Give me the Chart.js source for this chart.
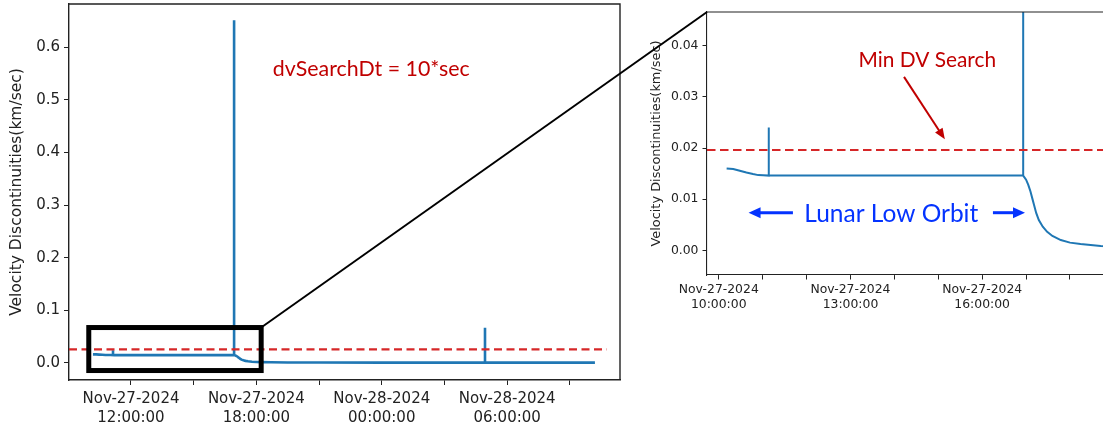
<!DOCTYPE html>
<html><head><meta charset="utf-8">
<script src="https://cdn.jsdelivr.net/npm/chart.js@4.4.1/dist/chart.umd.min.js"></script>
<style>
html,body{margin:0;padding:0;background:#fff;overflow:hidden;width:1103px;height:429px;position:relative;}
#left{position:absolute;left:0;top:0;}
#right{position:absolute;left:640px;top:0;}
#overlay{position:absolute;left:0;top:0;pointer-events:none;}
</style></head><body>
<canvas id="left" width="640" height="429"></canvas>
<canvas id="right" width="480" height="340"></canvas>
<canvas id="overlay" width="1103" height="429"></canvas>
<script>
// ---- data: hours since Nov-27-2024 00:00:00, velocity discontinuity (km/sec)
const hours = [10.18, 10.33, 10.48, 10.63, 10.78, 10.90, 11.01,
  11.14, 11.14, 11.14,
  16.934, 16.934, 16.934,
  17.00, 17.05, 17.10, 17.14, 17.18, 17.23, 17.29, 17.38, 17.48, 17.60, 17.79,
  18.00, 18.24, 18.70, 19.50, 21.00, 24.00,
  28.94, 28.94, 28.94,
  34.20];
const dvKmPerSec = [0.0160, 0.0159, 0.01556, 0.0152, 0.0149, 0.0147, 0.01466,
  0.0146, 0.0240, 0.0146,
  0.0146, 0.6515, 0.0146,
  0.0138, 0.0128, 0.0115, 0.0102, 0.0089, 0.0073, 0.0059, 0.0046, 0.0036, 0.0028, 0.0020,
  0.0015, 0.00123, 0.00084, 0.0006, 0.0004, 0.0003,
  0.0002, 0.0665, 0.0002,
  0.0002];

const leftThreshold = 0.0255;
const rightThreshold = 0.0196;
const leftThresholdHours = [9.034, 34.77];
const rightThresholdHours = [9.733, 19.025];

const leftXTickHours = [12, 15, 18, 21, 24, 27, 30, 33];
const leftXTickLabels = [['Nov-27-2024','12:00:00'], '', ['Nov-27-2024','18:00:00'], '', ['Nov-28-2024','00:00:00'], '', ['Nov-28-2024','06:00:00'], ''];
const leftYTicks = [0, 0.1, 0.2, 0.3, 0.4, 0.5, 0.6];
const leftYTickLabels = ['0.0', '0.1', '0.2', '0.3', '0.4', '0.5', '0.6'];

const rightXTickHours = [10, 11, 12, 13, 14, 15, 16, 17, 18];
const rightXTickLabels = [['Nov-27-2024','10:00:00'], '', '', ['Nov-27-2024','13:00:00'], '', '', ['Nov-27-2024','16:00:00'], '', ''];
const rightYTicks = [0, 0.01, 0.02, 0.03, 0.04];
const rightYTickLabels = ['0.00', '0.01', '0.02', '0.03', '0.04'];

const yTitle = 'Velocity Discontinuities(km/sec)';
const leftNote = 'dvSearchDt = 10*sec';
const minDvNote = 'Min DV Search';
const orbitNote = 'Lunar Low Orbit';

// zoom box (hours, km/sec)
const zoomBoxHours = [9.98, 18.23];
const zoomBoxDv = [-0.0148, 0.067];

const series = hours.map((h, i) => ({x: h, y: dvKmPerSec[i]}));
const BLUE = '#1f77b4', RED = '#d62728', NOTE_RED = '#c00000', NOTE_BLUE = '#0433ff', INK = '#222';
const TICK_FONT = 'DejaVu Sans';
const NOTE_FONT = 'Lato, "Open Sans", sans-serif';

function fitFont(ctx, text, target) {
  ctx.font = '20px ' + NOTE_FONT;
  const w = ctx.measureText(text).width;
  return (20 * target / w).toFixed(2) + 'px ' + NOTE_FONT;
}
function arrow(ctx, x1, y1, x2, y2, color, lw, hl, hw) {
  const a = Math.atan2(y2 - y1, x2 - x1);
  ctx.save();
  ctx.strokeStyle = color; ctx.fillStyle = color; ctx.lineWidth = lw;
  ctx.beginPath(); ctx.moveTo(x1, y1);
  ctx.lineTo(x2 - Math.cos(a) * hl * 0.8, y2 - Math.sin(a) * hl * 0.8); ctx.stroke();
  ctx.beginPath(); ctx.moveTo(x2, y2);
  ctx.lineTo(x2 - Math.cos(a) * hl + Math.sin(a) * hw / 2, y2 - Math.sin(a) * hl - Math.cos(a) * hw / 2);
  ctx.lineTo(x2 - Math.cos(a) * hl - Math.sin(a) * hw / 2, y2 - Math.sin(a) * hl + Math.cos(a) * hw / 2);
  ctx.closePath(); ctx.fill();
  ctx.restore();
}

const framePlugin = {
  id: 'frame',
  afterDraw(chart) {
    const {ctx, chartArea: a} = chart;
    ctx.save();
    ctx.strokeStyle = INK; ctx.lineWidth = chart.options.plugins.frame.lw;
    ctx.beginPath();
    ctx.moveTo(a.left, a.top); ctx.lineTo(a.right, a.top); ctx.lineTo(a.right, a.bottom);
    ctx.stroke();
    ctx.restore();
  }
};

function axes(cfg) {
  return {
    x: {
      type: 'linear', min: cfg.xmin, max: cfg.xmax,
      afterBuildTicks: s => { s.ticks = cfg.xTicks.map(v => ({value: v})); },
      afterFit: s => { s.height = cfg.xh; s.paddingLeft = 0; s.paddingRight = 0; },
      ticks: {callback: (v, i) => cfg.xLabels[i], autoSkip: false, maxRotation: 0, minRotation: 0,
        font: {family: TICK_FONT, size: cfg.fs, lineHeight: cfg.lh}, color: INK, padding: cfg.xpad},
      grid: {drawOnChartArea: false, drawTicks: true, tickLength: cfg.tl, color: INK, lineWidth: 1},
      border: {display: true, color: INK, width: cfg.lw}
    },
    y: {
      type: 'linear', min: cfg.ymin, max: cfg.ymax,
      afterBuildTicks: s => { s.ticks = cfg.yTicks.map(v => ({value: v})); },
      afterFit: s => { s.width = cfg.yw; s.paddingTop = 0; s.paddingBottom = 0; },
      ticks: {callback: (v, i) => cfg.yLabels[i], autoSkip: false,
        font: {family: TICK_FONT, size: cfg.fs}, color: INK, padding: cfg.ypad},
      grid: {drawOnChartArea: false, drawTicks: true, tickLength: cfg.tl, color: INK, lineWidth: 1},
      border: {display: true, color: INK, width: cfg.lw},
      title: {display: true, text: yTitle, color: INK, font: {family: TICK_FONT, size: cfg.tfs},
        padding: {top: cfg.tpad, bottom: 0}}
    }
  };
}

const leftNotes = {
  id: 'leftNotes',
  afterDatasetsDraw(chart) {
    const {ctx, scales: {x, y}} = chart;
    ctx.save();
    ctx.strokeStyle = '#000'; ctx.lineWidth = 5;
    const x0 = x.getPixelForValue(zoomBoxHours[0]), x1 = x.getPixelForValue(zoomBoxHours[1]);
    const y0 = y.getPixelForValue(zoomBoxDv[0]), y1 = y.getPixelForValue(zoomBoxDv[1]);
    ctx.strokeRect(x0, y1, x1 - x0, y0 - y1);
    ctx.font = fitFont(ctx, leftNote, 197);
    ctx.fillStyle = NOTE_RED; ctx.textAlign = 'center'; ctx.textBaseline = 'alphabetic';
    ctx.fillText(leftNote, x.getPixelForValue(23.50), y.getPixelForValue(0.5454));
    ctx.restore();
  }
};

const rightNotes = {
  id: 'rightNotes',
  afterDatasetsDraw(chart) {
    const {ctx, scales: {x, y}} = chart;
    ctx.save();
    ctx.textAlign = 'center'; ctx.textBaseline = 'alphabetic';
    ctx.font = fitFont(ctx, minDvNote, 137.5);
    ctx.fillStyle = NOTE_RED;
    ctx.fillText(minDvNote, x.getPixelForValue(14.75), y.getPixelForValue(0.0358));
    arrow(ctx, x.getPixelForValue(14.22), y.getPixelForValue(0.0339), x.getPixelForValue(15.15), y.getPixelForValue(0.0217), NOTE_RED, 2, 11, 9);
    ctx.font = fitFont(ctx, orbitNote, 174);
    ctx.fillStyle = NOTE_BLUE;
    ctx.fillText(orbitNote, x.getPixelForValue(13.93), y.getPixelForValue(0.0056));
    const ay = y.getPixelForValue(0.00735);
    arrow(ctx, x.getPixelForValue(11.69), ay, x.getPixelForValue(10.68), ay, NOTE_BLUE, 3, 12, 11);
    arrow(ctx, x.getPixelForValue(16.245), ay, x.getPixelForValue(16.975), ay, NOTE_BLUE, 3, 12, 11);
    ctx.restore();
  }
};

Chart.defaults.animation = false;

const leftChart = new Chart(document.getElementById('left'), {
  type: 'line',
  data: {datasets: [
    {data: leftThresholdHours.map(h => ({x: h, y: leftThreshold})), borderColor: RED, borderWidth: 2.2, borderDash: [8, 4.5], pointRadius: 0, order: 0},
    {data: series, borderColor: BLUE, borderWidth: 2.6, pointRadius: 0, tension: 0, order: 1}
  ]},
  options: {
    responsive: false, animation: false,
    layout: {padding: {left: 0, top: 4, right: 20, bottom: 0}},
    plugins: {legend: {display: false}, tooltip: {enabled: false}, frame: {lw: 1.4}},
    scales: axes({xmin: 9.034, xmax: 35.40, ymin: -0.0328, ymax: 0.6825, xTicks: leftXTickHours, xLabels: leftXTickLabels,
      yTicks: leftYTicks, yLabels: leftYTickLabels, xh: 49, yw: 69, fs: 15, tfs: 15.5, lh: 1.27, tl: 5, xpad: 5, ypad: 4, lw: 1.4, tpad: 7.5})
  },
  plugins: [framePlugin, leftNotes]
});

const rightChart = new Chart(document.getElementById('right'), {
  type: 'line',
  data: {datasets: [
    {data: rightThresholdHours.map(h => ({x: h, y: rightThreshold})), borderColor: RED, borderWidth: 2, borderDash: [8.5, 4.5], pointRadius: 0, order: 0},
    {data: series, borderColor: BLUE, borderWidth: 2, pointRadius: 0, tension: 0, order: 1}
  ]},
  options: {
    responsive: false, animation: false,
    layout: {padding: {left: 0, top: 12, right: 5, bottom: 0}},
    plugins: {legend: {display: false}, tooltip: {enabled: false}, frame: {lw: 1.1}},
    scales: axes({xmin: 9.733, xmax: 19.025, ymin: -0.00483, ymax: 0.04659, xTicks: rightXTickHours, xLabels: rightXTickLabels,
      yTicks: rightYTicks, yLabels: rightYTickLabels, xh: 65, yw: 67, fs: 12.4, tfs: 12.9, lh: 1.2, tl: 4.5, xpad: 3, ypad: 4, lw: 1.1, tpad: 9})
  },
  plugins: [framePlugin, rightNotes]
});

// connector from zoom box corner to the inset's plot corner
(function () {
  const ov = document.getElementById('overlay').getContext('2d');
  const lc = document.getElementById('left'), rc = document.getElementById('right');
  const sx = lc.offsetLeft + leftChart.scales.x.getPixelForValue(zoomBoxHours[1]);
  const sy = lc.offsetTop + leftChart.scales.y.getPixelForValue(zoomBoxDv[1]);
  const ex = rc.offsetLeft + rightChart.chartArea.left;
  const ey = rc.offsetTop + rightChart.chartArea.top;
  ov.strokeStyle = '#000'; ov.lineWidth = 2;
  ov.beginPath(); ov.moveTo(sx, sy); ov.lineTo(ex, ey); ov.stroke();
})();
</script>
</body></html>
